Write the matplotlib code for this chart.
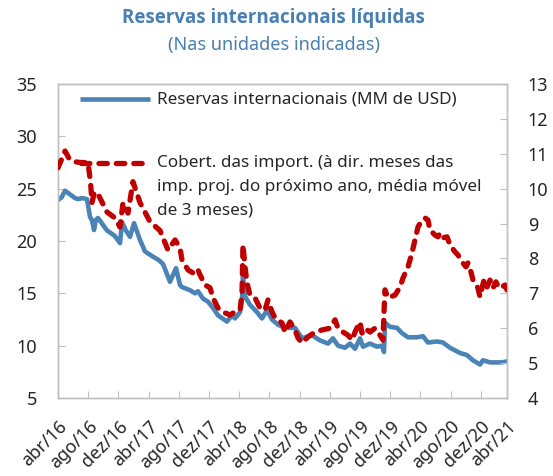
import matplotlib
matplotlib.use("Agg")
import matplotlib.pyplot as plt

plt.rcParams['font.family'] = ['Noto Sans', 'DejaVu Sans']

# months since abr/16
res_x = [0, 0.5, 0.93, 1.5, 2.25, 2.65, 3.2, 3.84, 4.24, 4.5, 4.77, 5.0, 5.3, 6.0, 6.5,
         7.5, 8.21, 8.48, 9.0, 9.54, 10.07, 10.86, 11.52, 12.58, 13.3, 13.91, 14.83,
         15.63, 16.16, 16.42, 17.48, 18.15, 18.54, 19.2, 19.87, 20.53, 21.19, 22.38,
         23.05, 23.44, 24.11, 24.37, 24.5, 24.77, 25.43, 26.36, 27.02, 27.68, 28.34,
         29.14, 30.07, 31.39, 32.32, 33.64, 34.7, 35.76, 36.42, 37.09, 38.01, 38.68,
         39.34, 40.0, 40.4, 41.32, 42.25, 42.91, 43.18, 43.31, 43.97, 44.9, 45.56,
         46.36, 47.55, 48.34, 49.0, 50.2, 50.99, 51.92, 53.25, 54.17, 54.97, 55.89,
         56.29, 57.22, 57.88, 58.81, 59.47]
reservas = [23.9, 24.2, 24.8, 24.5, 24.1, 24.0, 24.1, 24.0, 22.3, 22.0, 21.05, 22.0, 22.2,
            21.5, 21.0, 20.5, 19.8, 21.8, 21.0, 20.4, 21.7, 20.1, 19.0, 18.5, 18.2, 17.8,
            16.1, 17.4, 15.8, 15.6, 15.3, 15.0, 15.2, 14.5, 14.2, 13.6, 12.9, 12.3, 12.9,
            12.6, 13.2, 14.4, 16.6, 14.7, 13.9, 13.2, 12.6, 13.4, 12.5, 12.0, 11.7, 11.7,
            10.7, 11.0, 10.5, 10.2, 10.7, 10.0, 9.8, 10.2, 9.7, 10.7, 9.9, 10.2, 9.9,
            10.0, 9.4, 12.2, 11.8, 11.7, 11.2, 10.8, 10.8, 10.9, 10.3, 10.4, 10.3, 9.8,
            9.3, 9.1, 8.6, 8.2, 8.6, 8.4, 8.4, 8.4, 8.5]

cob_x = [0, 0.5, 0.93, 1.5, 2.25, 3.0, 3.97, 4.3, 4.5, 4.8, 5.17, 6.49, 7.55, 8.21, 8.61,
         9.27, 9.93, 10.86, 12.19, 13.51, 14.57, 15.5, 16.16, 16.42, 17.22, 18.15, 18.54,
         18.81, 19.47, 20.13, 20.53, 21.19, 22.12, 22.78, 23.44, 24.11, 24.37, 24.5,
         24.77, 25.03, 25.43, 26.09, 26.75, 27.42, 27.81, 28.34, 28.74, 29.67, 30.07,
         30.73, 31.39, 31.79, 32.32, 33.11, 34.04, 34.97, 36.03, 36.69, 37.09, 37.75,
         38.41, 38.94, 39.34, 40.0, 40.26, 40.66, 41.32, 41.99, 42.65, 43.05, 43.18,
         43.31, 43.71, 44.64, 45.3, 45.7, 46.36, 46.89, 47.28, 47.68, 47.95, 48.61, 49.0,
         49.27, 49.93, 50.33, 50.6, 50.99, 51.52, 51.92, 52.58, 52.98, 53.51, 54.04,
         54.3, 54.7, 54.97, 55.36, 55.63, 55.89, 56.16, 56.42, 56.82, 57.22, 57.62,
         58.01, 58.41, 58.81, 59.21, 59.47]
cobertura = [10.6, 10.85, 11.08, 10.85, 10.77, 10.75, 10.75, 10.2, 9.6, 9.88, 9.9, 9.33,
             9.16, 8.9, 9.6, 9.3, 10.2, 9.6, 9.05, 8.8, 8.24, 8.53, 8.3, 7.96, 7.67, 7.55,
             7.67, 7.53, 7.24, 7.16, 6.87, 6.58, 6.44, 6.38, 6.47, 6.52, 7.0, 8.39, 7.76,
             7.3, 6.95, 6.87, 6.58, 6.52, 6.81, 6.47, 6.3, 6.15, 5.89, 6.18, 5.95, 5.72,
             5.58, 5.75, 5.89, 5.95, 6.0, 6.24, 6.0, 5.89, 5.8, 5.66, 5.89, 6.18, 5.86,
             6.0, 5.89, 6.0, 5.8, 5.66, 6.47, 7.1, 6.87, 6.95, 7.18, 7.44, 7.76, 8.16,
             8.53, 8.9, 9.0, 9.16, 9.1, 8.82, 8.67, 8.62, 8.73, 8.59, 8.62, 8.39, 8.19,
             8.1, 7.9, 7.76, 7.87, 7.61, 7.38, 7.24, 7.15, 6.9, 7.15, 7.38, 7.18, 7.38,
             7.15, 7.33, 7.15, 7.18, 7.24, 7.1]

tick_pos = [0, 4, 8, 12, 16, 20, 24, 28, 32, 36, 40, 44, 48, 52, 56, 59.47]
tick_labels = ['abr/16', 'ago/16', 'dez/16', 'abr/17', 'ago/17', 'dez/17', 'abr/18',
               'ago/18', 'dez/18', 'abr/19', 'ago/19', 'dez/19', 'abr/20', 'ago/20',
               'dez/20', 'abr/21']

label_res = 'Reservas internacionais (MM de USD)'
label_cob = ['Cobert. das import. (à dir. meses das',
             'imp. proj. do próximo ano, média móvel',
             'de 3 meses)']

blue = '#4a83b5'
red = '#c00000'
grey = '#bfbfbf'
txt = '#262626'
dash = (0, (1.6, 1.7))

fig = plt.figure(figsize=(5.53, 4.76), dpi=100)
ax = fig.add_axes([0.1049, 0.1639, 0.8119, 0.6596])
ax2 = ax.twinx()

ax.plot(res_x, reservas, color=blue, lw=3.3, solid_joinstyle='round', zorder=2)
ax2.plot(cob_x, cobertura, color=red, lw=3.8, ls=dash, dash_capstyle='round', zorder=3)

ax.set_xlim(0, 59.47)
ax.set_ylim(5, 35)
ax.set_yticks(range(5, 36, 5))
ax2.set_ylim(4, 13)
ax2.set_yticks(range(4, 14))
ax.set_xticks(tick_pos)
ax.set_xticklabels(tick_labels, rotation=45, ha='right', va='top', rotation_mode='anchor')

for a in (ax, ax2):
    for s in a.spines.values():
        s.set_color(grey)
        s.set_linewidth(1)
    a.tick_params(direction='in', length=5, color=grey, labelsize=13, labelcolor=txt)
ax.tick_params(axis='y', pad=15)
ax2.tick_params(axis='y', pad=15)
ax.tick_params(axis='x', pad=14)

# legend drawn Excel-style
ax.plot([0.049, 0.205], [0.952, 0.952], transform=ax.transAxes, color=blue, lw=3.3,
        solid_capstyle='butt', clip_on=False)
ax.text(0.2205, 0.952, label_res, transform=ax.transAxes, va='center', ha='left',
        fontsize=12.3, color=txt)
ax.plot([0.052, 0.205], [0.748, 0.748], transform=ax.transAxes, color=red, lw=3.8,
        ls=dash, dash_capstyle='round', clip_on=False)
for i, line in enumerate(label_cob):
    ax.text(0.2205, 0.748 - i * 0.075, line, transform=ax.transAxes, va='center',
            ha='left', fontsize=12.3, color=txt)

fig.text(0.495, 0.962, 'Reservas internacionais líquidas', ha='center', va='center',
         fontsize=13.5, fontweight='bold', color='#4a7fb3', family=['Open Sans', 'DejaVu Sans'])
fig.text(0.495, 0.905, '(Nas unidades indicadas)', ha='center', va='center',
         fontsize=13, color='#4a7fb3')

fig.savefig('out.png', dpi=100)
